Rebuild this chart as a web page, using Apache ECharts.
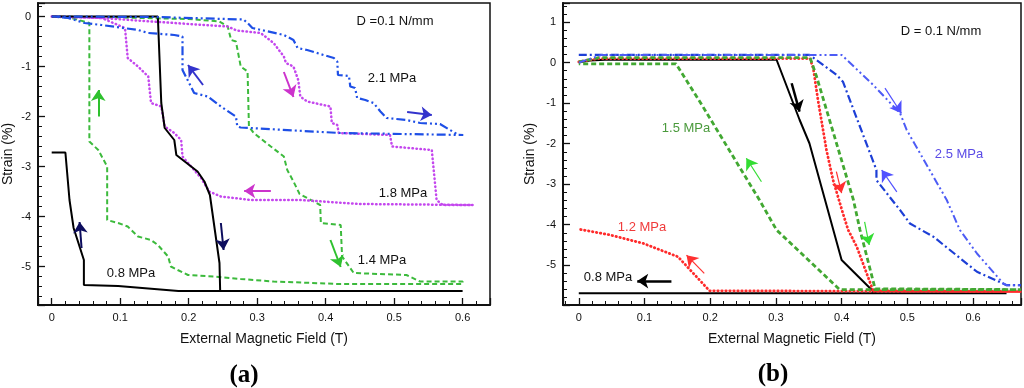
<!DOCTYPE html>
<html><head><meta charset="utf-8">
<script src="https://cdn.jsdelivr.net/npm/echarts@6/dist/echarts.min.js"></script>
<style>html,body{margin:0;padding:0;background:#fff}#c{width:1024px;height:388px}</style>
</head><body><div id="c"></div>
<script>
// ---------- panel (a) data: [field T, strain %] ----------
const a_black08 = [[0,0],[0.155,0],[0.160,-1.73],[0.165,-2.23],[0.179,-2.47],[0.182,-2.77],[0.213,-3.10],[0.223,-3.30],[0.231,-3.57],[0.245,-4.93],[0.246,-5.49],[0.600,-5.49],
  [0.185,-5.49],[0.097,-5.39],[0.047,-5.37],[0.047,-4.87],[0.032,-4.23],[0.026,-3.67],[0.020,-2.72],[0,-2.72]];
const a_green14 = [[0,0],[0.10,-0.02],[0.20,-0.05],[0.245,-0.10],[0.257,-0.20],[0.262,-0.47],[0.269,-0.50],[0.276,-1.00],[0.286,-1.10],[0.288,-2.20],[0.295,-2.33],[0.320,-2.60],[0.339,-2.80],[0.344,-3.07],[0.353,-3.30],[0.362,-3.55],[0.392,-3.77],[0.393,-4.13],[0.422,-4.17],[0.424,-4.80],[0.441,-5.13],[0.518,-5.17],[0.538,-5.30],[0.600,-5.30],
  [0.600,-5.35],[0.420,-5.35],[0.324,-5.30],[0.276,-5.25],[0.237,-5.20],[0.199,-5.17],[0.184,-5.07],[0.174,-5.00],[0.170,-4.80],[0.155,-4.57],[0.145,-4.47],[0.126,-4.40],[0.111,-4.20],[0.097,-4.13],[0.081,-4.07],[0.081,-3.00],[0.068,-2.67],[0.055,-2.50],[0.055,-0.13],[0.029,-0.03],[0,0]];
const a_magenta18 = [[0,0],[0.073,-0.03],[0.145,-0.10],[0.257,-0.20],[0.270,-0.28],[0.305,-0.33],[0.324,-0.53],[0.339,-0.80],[0.342,-0.93],[0.353,-1.00],[0.360,-1.27],[0.363,-1.60],[0.373,-1.70],[0.407,-1.80],[0.409,-2.13],[0.417,-2.17],[0.419,-2.33],[0.494,-2.37],[0.497,-2.60],[0.555,-2.67],[0.562,-3.67],[0.571,-3.77],[0.615,-3.77],
  [0.450,-3.75],[0.363,-3.67],[0.291,-3.67],[0.247,-3.60],[0.230,-3.50],[0.218,-3.23],[0.191,-2.80],[0.189,-2.47],[0.179,-2.33],[0.165,-2.20],[0.160,-1.80],[0.145,-1.73],[0.141,-1.20],[0.126,-1.00],[0.111,-0.83],[0.107,-0.23],[0.073,-0.03],[0,0]];
const a_blue21 = [[0,0],[0.15,-0.01],[0.280,-0.06],[0.286,-0.13],[0.293,-0.23],[0.339,-0.37],[0.353,-0.47],[0.359,-0.63],[0.373,-0.67],[0.397,-0.77],[0.412,-0.83],[0.417,-0.90],[0.418,-1.17],[0.434,-1.19],[0.436,-1.40],[0.443,-1.43],[0.446,-1.63],[0.458,-1.67],[0.470,-1.73],[0.480,-1.90],[0.489,-2.03],[0.518,-2.07],[0.538,-2.13],[0.567,-2.15],[0.594,-2.37],[0.601,-2.37],
  [0.421,-2.33],[0.276,-2.22],[0.271,-2.20],[0.269,-2.00],[0.247,-1.80],[0.228,-1.60],[0.208,-1.53],[0.191,-1.07],[0.191,-0.40],[0.179,-0.37],[0.141,-0.33],[0.126,-0.27],[0.073,-0.17],[0.048,-0.13],[0.024,-0.03],[0,0]];
// arrows (a): [x1,y1,x2,y2]  (head at x2,y2)
const a_arrows = [[0.068,-2.0,0.068,-1.47],[0.0436,-4.63,0.0407,-4.11],[0.247,-4.13,0.251,-4.67],[0.221,-1.37,0.199,-0.97],
  [0.339,-1.11,0.353,-1.61],[0.519,-1.91,0.555,-1.97],[0.320,-3.49,0.281,-3.49],[0.407,-4.47,0.422,-5.01]];

// ---------- panel (b) data ----------
const b_black08 = [[0,0],[0.017,0.05],[0.04,0.07],[0.301,0.07],[0.336,-1.41],[0.351,-1.99],[0.400,-4.87],[0.451,-5.69],[0.651,-5.69],[0,-5.69]];
const b_red12 = [[0,0.02],[0.03,0.10],[0.352,0.10],[0.357,-0.15],[0.364,-0.92],[0.377,-2.16],[0.387,-2.90],[0.402,-3.72],[0.410,-4.13],[0.423,-4.54],[0.448,-5.63],[0.673,-5.65],[0.199,-5.63],[0.151,-4.79],[0.098,-4.46],[0.047,-4.25],[0,-4.11]];
const b_green15 = [[0,0.02],[0.03,0.12],[0.352,0.12],[0.362,-0.35],[0.418,-3.39],[0.428,-4.13],[0.451,-5.58],[0.673,-5.60],[0.397,-5.60],[0.301,-4.13],[0.275,-3.39],[0.189,-1.09],[0.148,-0.03],[0,-0.03]];
const b_blue25ret = [[0,0.19],[0.351,0.19],[0.392,-0.30],[0.402,-0.47],[0.423,-1.37],[0.453,-2.65],[0.453,-2.90],[0.489,-3.64],[0.504,-3.97],[0.540,-4.30],[0.606,-5.16],[0.651,-5.49],[0.673,-5.49]];
const b_blue25fwd = [[0,0],[0.035,0.19],[0.400,0.19],[0.448,-0.55],[0.489,-1.25],[0.499,-1.66],[0.560,-3.39],[0.580,-4.13],[0.606,-4.71],[0.646,-5.45],[0.651,-5.49],[0.673,-5.49]];
const b_arrows = [[0.324,-0.51,0.336,-1.21],[0.141,-5.39,0.089,-5.39],[0.392,-2.69,0.400,-3.22],[0.191,-5.20,0.164,-4.75],
  [0.278,-2.94,0.255,-2.36],[0.435,-3.93,0.442,-4.50],[0.466,-0.63,0.491,-1.25],[0.484,-3.19,0.461,-2.65]];

// ---------- styling ----------
const FONT = '"Liberation Sans", Arial, sans-serif';
const a_arrowStyle = [['#2ec12e',2],['#0d0d5e',2],['#0d0d5e',2],['#3333cc',2],['#cc33cc',2],['#3333cc',2],['#cc33cc',2],['#2ec12e',2]];
const b_arrowStyle = [['#000',2.5],['#000',2.5],['#ff3030',1.2],['#ff3030',1.2],['#33dd33',1.2],['#33dd33',1.2],['#5050ff',1.2],['#5050ff',1.2]];

function xFmt(v){ const r = Math.round(v*10); if (Math.abs(v*10 - r) > 1e-6) return ''; return r === 0 ? '0' : (r/10).toFixed(1); }
function yFmt(v){ const r = Math.round(v); if (Math.abs(v - r) > 1e-6) return ''; return String(r); }

function xAxis(idx, min, max){
  return { type:'value', gridIndex:idx, min, max, splitNumber:6,
    name:'External Magnetic Field (T)', nameLocation:'middle', nameGap:27,
    nameTextStyle:{fontFamily:FONT, fontSize:14, color:'#111'},
    axisLine:{show:true, onZero:false, lineStyle:{color:'#111', width:2}},
    axisTick:{show:true, inside:true, length:7, lineStyle:{color:'#111', width:1.3}},
    minorTick:{show:true, splitNumber:5, length:4, lineStyle:{color:'#111', width:1}},
    axisLabel:{formatter:xFmt, fontFamily:FONT, fontSize:11, color:'#111', margin:7},
    splitLine:{show:false} };
}
function yAxis(idx, min, max, gap){
  return { type:'value', gridIndex:idx, min, max, splitNumber:6,
    name:'Strain (%)', nameLocation:'middle', nameGap:gap, nameRotate:90,
    nameTextStyle:{fontFamily:FONT, fontSize:14, color:'#111'},
    axisLine:{show:true, onZero:false, lineStyle:{color:'#111', width:2}},
    axisTick:{show:true, inside:true, length:7, lineStyle:{color:'#111', width:1.3}},
    minorTick:{show:true, splitNumber:5, length:4, lineStyle:{color:'#111', width:1}},
    axisLabel:{formatter:yFmt, fontFamily:FONT, fontSize:11, color:'#111', margin:7},
    splitLine:{show:false} };
}
function line(idx, data, color, width, type, cap){
  return { type:'line', xAxisIndex:idx, yAxisIndex:idx, data, symbol:'none', silent:true, animation:false,
    lineStyle:{color, width, type, cap: cap || 'butt'} };
}
function arrows(idx, list, styles){
  return { type:'line', xAxisIndex:idx, yAxisIndex:idx, data:[[list[0][0], list[0][1]]], symbol:'none', silent:true,
    lineStyle:{opacity:0}, animation:false,
    markLine:{ silent:true, animation:false, symbol:['none','arrow'], symbolSize:11, label:{show:false},
      data: list.map((a,i)=>[{coord:[a[0],a[1]], lineStyle:{color:styles[i][0], width:styles[i][1], type:'solid'}}, {coord:[a[2],a[3]]}]) } };
}
function txt(x, y, text, color, font){
  return { type:'text', x, y, silent:true, style:{ text, fill:color, font: font || ('13px ' + FONT), align:'center', verticalAlign:'middle' } };
}

const chart = echarts.init(document.getElementById('c'), null, {renderer:'canvas'});
chart.setOption({
  animation:false,
  backgroundColor:'#fff',
  grid:[
    {left:37, top:3, width:453, height:302, show:true, borderColor:'#111', borderWidth:1.5, backgroundColor:'transparent'},
    {left:563, top:3, width:458, height:302, show:true, borderColor:'#111', borderWidth:1.5, backgroundColor:'transparent'}
  ],
  xAxis:[ xAxis(0, -0.02, 0.64), xAxis(1, -0.024, 0.673) ],
  yAxis:[ yAxis(0, -5.77, 0.27, 23), yAxis(1, -5.98, 1.47, 26) ],
  series:[
    line(0, a_green14, '#3cba3c', 2, [5,3]),
    line(0, a_magenta18, '#c447ee', 2.5, [0.5,3.5], 'round'),
    line(0, a_black08, '#000', 2, 'solid'),
    line(0, a_blue21, '#1e4fe6', 2.2, [9,3,2,3,2,3]),
    arrows(0, a_arrows, a_arrowStyle),
    line(1, b_black08, '#000', 2, 'solid'),
    line(1, b_red12, '#ff2b2b', 2.8, [0.5,3.5], 'round'),
    line(1, b_green15, '#42a832', 2.8, [5,3]),
    line(1, b_blue25ret, '#1d3fd6', 2.2, [8,3,2,3]),
    line(1, b_blue25fwd, '#4d5cf5', 2, [8,3,2,3,2,3]),
    arrows(1, b_arrows, b_arrowStyle)
  ],
  graphic:[
    txt(395, 21, 'D =0.1 N/mm', '#111'),
    txt(392, 78, '2.1 MPa', '#111'),
    txt(403, 193, '1.8 MPa', '#111'),
    txt(382, 260, '1.4 MPa', '#111'),
    txt(131, 273, '0.8 MPa', '#111'),
    txt(941, 31, 'D = 0.1 N/mm', '#111'),
    txt(686, 128, '1.5 MPa', '#4a9a3c'),
    txt(959, 154, '2.5 MPa', '#5a4ae6'),
    txt(642, 227, '1.2 MPa', '#f03a3a'),
    txt(608, 277, '0.8 MPa', '#111'),
    txt(244, 376, '(a)', '#000', 'bold 25px "Liberation Serif", "Times New Roman", serif'),
    txt(773, 375, '(b)', '#000', 'bold 25px "Liberation Serif", "Times New Roman", serif')
  ]
});
</script></body></html>
